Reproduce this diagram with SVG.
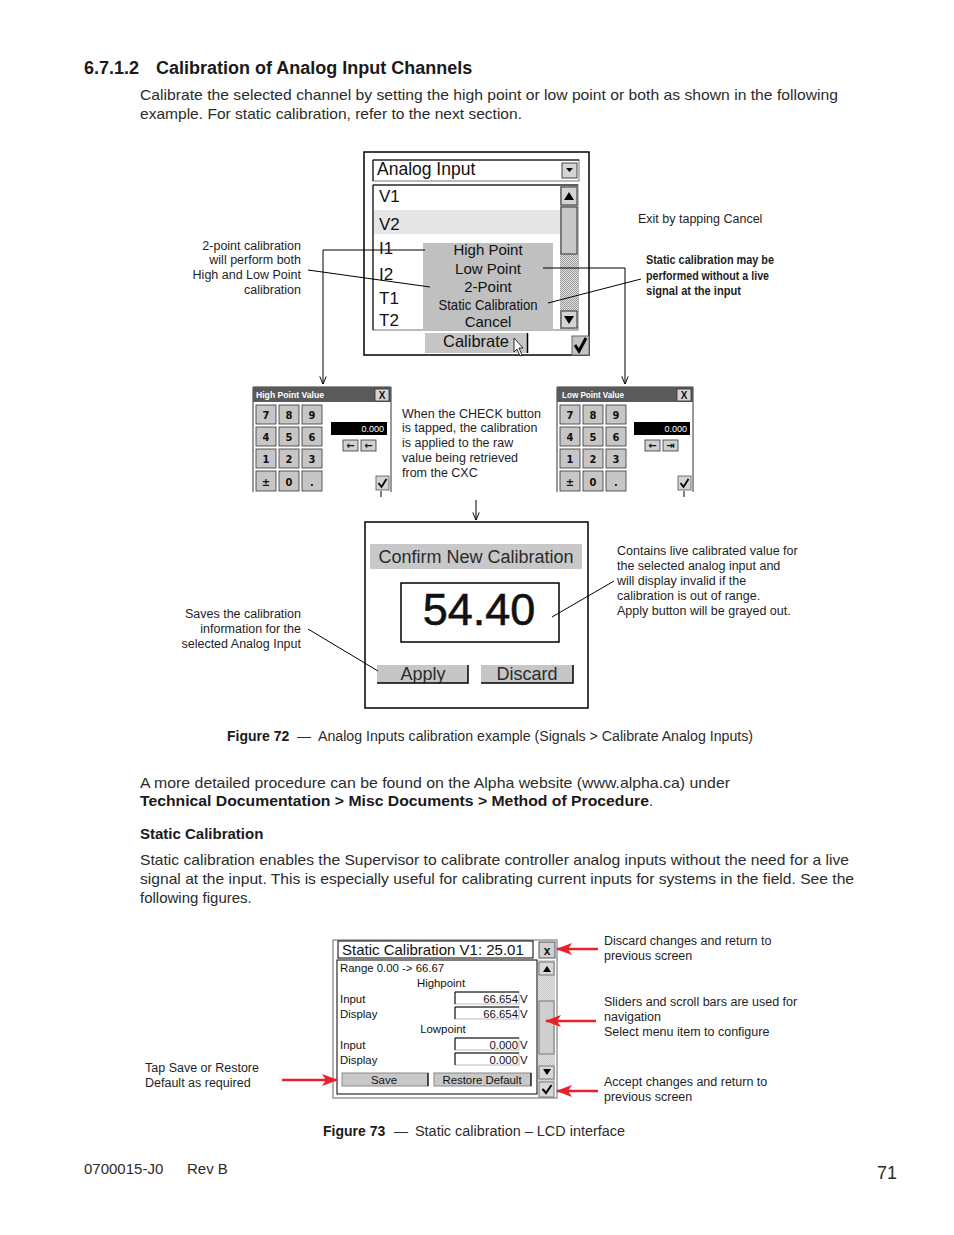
<svg xmlns="http://www.w3.org/2000/svg" xmlns:xlink="http://www.w3.org/1999/xlink" width="954" height="1235" viewBox="0 0 954 1235">
<style>
text{font-family:"Liberation Sans",Arial,sans-serif;fill:#2b2b2b}
.h{font-weight:bold;fill:#1a1a1a}
.body{font-size:15px}
.cap{font-size:14px}
.ann{font-size:12.5px;fill:#1e1e1e}
.ui{fill:#111}
.menu{font-size:15px;text-anchor:middle;fill:#111}
.key{font-family:"DejaVu Sans Condensed","DejaVu Sans",sans-serif;font-weight:bold;font-size:11px;text-anchor:middle;fill:#111}
.btn{fill:#c6c6c6}
.edge{stroke:#000;stroke-width:1.5;fill:none}
.ln{stroke:#000;stroke-width:1;fill:none}
.lcd{font-size:11.4px;fill:#111}
.red{stroke:#e8202a;stroke-width:2.5;fill:none}
.arr{font-family:"DejaVu Sans",sans-serif;font-size:10px;font-weight:bold;text-anchor:middle;fill:#111}
</style>
<defs>
<marker id="v" viewBox="0 0 10 10" refX="9.5" refY="5" markerWidth="8" markerHeight="8" markerUnits="userSpaceOnUse" orient="auto">
<path d="M0,1 L10,5 L0,9" fill="none" stroke="#000" stroke-width="1.2"/>
</marker>
<marker id="ra" viewBox="0 0 16 12" refX="15" refY="6" markerWidth="16" markerHeight="12" markerUnits="userSpaceOnUse" orient="auto">
<path d="M0,0 L16,6 L0,12 L4,6 Z" fill="#e8202a"/>
</marker>
<pattern id="dither" width="2" height="2" patternUnits="userSpaceOnUse">
<rect width="2" height="2" fill="#e2e2e2"/><rect width="1" height="1" fill="#9a9a9a"/><rect x="1" y="1" width="1" height="1" fill="#9a9a9a"/>
</pattern>
<pattern id="dither2" width="2" height="2" patternUnits="userSpaceOnUse">
<rect width="2" height="2" fill="#e6e6e6"/><rect width="1" height="1" fill="#c4c4c4"/><rect x="1" y="1" width="1" height="1" fill="#c4c4c4"/>
</pattern>
<g id="keys">
<rect x="256" y="405" width="20" height="19" class="btn" stroke="#333" stroke-width="0.8"/>
<rect x="279" y="405" width="20" height="19" class="btn" stroke="#333" stroke-width="0.8"/>
<rect x="302" y="405" width="20" height="19" class="btn" stroke="#333" stroke-width="0.8"/>
<rect x="256" y="427" width="20" height="19" class="btn" stroke="#333" stroke-width="0.8"/>
<rect x="279" y="427" width="20" height="19" class="btn" stroke="#333" stroke-width="0.8"/>
<rect x="302" y="427" width="20" height="19" class="btn" stroke="#333" stroke-width="0.8"/>
<rect x="256" y="449" width="20" height="19" class="btn" stroke="#333" stroke-width="0.8"/>
<rect x="279" y="449" width="20" height="19" class="btn" stroke="#333" stroke-width="0.8"/>
<rect x="302" y="449" width="20" height="19" class="btn" stroke="#333" stroke-width="0.8"/>
<rect x="256" y="471" width="20" height="20" class="btn" stroke="#333" stroke-width="0.8"/>
<rect x="279" y="471" width="20" height="20" class="btn" stroke="#333" stroke-width="0.8"/>
<rect x="302" y="471" width="20" height="20" class="btn" stroke="#333" stroke-width="0.8"/>
<text class="key" x="266" y="419">7</text><text class="key" x="289" y="419">8</text><text class="key" x="312" y="419">9</text>
<text class="key" x="266" y="441">4</text><text class="key" x="289" y="441">5</text><text class="key" x="312" y="441">6</text>
<text class="key" x="266" y="463">1</text><text class="key" x="289" y="463">2</text><text class="key" x="312" y="463">3</text>
<text class="key" x="266" y="486">±</text><text class="key" x="289" y="486">0</text><text class="key" x="312" y="486">.</text>
</g>
</defs>
<rect width="954" height="1235" fill="#fff"/>

<g id="page-text">
<text class="h" x="84" y="74" font-size="18">6.7.1.2</text>
<text class="h" x="156" y="74" font-size="18">Calibration of Analog Input Channels</text>
<text class="body" x="140" y="100" textLength="698" lengthAdjust="spacingAndGlyphs">Calibrate the selected channel by setting the high point or low point or both as shown in the following</text>
<text class="body" x="140" y="119" textLength="382" lengthAdjust="spacingAndGlyphs">example. For static calibration, refer to the next section.</text>
<text class="cap" x="227" y="741"><tspan class="h">Figure 72</tspan><tspan x="297">—</tspan><tspan x="318" textLength="435" lengthAdjust="spacingAndGlyphs">Analog Inputs calibration example (Signals &gt; Calibrate Analog Inputs)</tspan></text>
<text class="body" x="140" y="788" textLength="590" lengthAdjust="spacingAndGlyphs">A more detailed procedure can be found on the Alpha website (www.alpha.ca) under</text>
<text class="body" x="140" y="806"><tspan class="h" textLength="509" lengthAdjust="spacingAndGlyphs">Technical Documentation &gt; Misc Documents &gt; Method of Procedure</tspan>.</text>
<text class="body h" x="140" y="839">Static Calibration</text>
<text class="body" x="140" y="865" textLength="709" lengthAdjust="spacingAndGlyphs">Static calibration enables the Supervisor to calibrate controller analog inputs without the need for a live</text>
<text class="body" x="140" y="884" textLength="714" lengthAdjust="spacingAndGlyphs">signal at the input. This is especially useful for calibrating current inputs for systems in the field. See the</text>
<text class="body" x="140" y="903">following figures.</text>
<text class="cap" x="323" y="1136"><tspan class="h">Figure 73</tspan><tspan x="394">—</tspan><tspan x="415" textLength="210" lengthAdjust="spacingAndGlyphs">Static calibration  – LCD interface</tspan></text>
<text class="body" x="84" y="1174">0700015-J0</text>
<text class="body" x="187" y="1174">Rev B</text>
<text x="877" y="1179" font-size="18">71</text>
</g>

<g id="fig72-annotations">
<text class="ann" text-anchor="end" x="301" y="250">2-point calibration</text>
<text class="ann" text-anchor="end" x="301" y="264">will perform both</text>
<text class="ann" text-anchor="end" x="301" y="279">High and Low Point</text>
<text class="ann" text-anchor="end" x="301" y="294">calibration</text>
<text class="ann" x="638" y="223">Exit by tapping Cancel</text>
<text class="ann" x="646" y="264" font-weight="bold" font-size="11.5" textLength="128" lengthAdjust="spacingAndGlyphs">Static calibration may be</text>
<text class="ann" x="646" y="280" font-weight="bold" font-size="11.5" textLength="123" lengthAdjust="spacingAndGlyphs">performed without a live</text>
<text class="ann" x="646" y="295" font-weight="bold" font-size="11.5" textLength="95" lengthAdjust="spacingAndGlyphs">signal at the input</text>
<text class="ann" font-size="12" x="402" y="418">When the CHECK button</text>
<text class="ann" font-size="12" x="402" y="432">is tapped, the calibration</text>
<text class="ann" font-size="12" x="402" y="447">is applied to the raw</text>
<text class="ann" font-size="12" x="402" y="462">value being retrieved</text>
<text class="ann" font-size="12" x="402" y="477">from the CXC</text>
<text class="ann" text-anchor="end" x="301" y="618">Saves the calibration</text>
<text class="ann" text-anchor="end" x="301" y="633">information for the</text>
<text class="ann" text-anchor="end" x="301" y="648">selected Analog Input</text>
<text class="ann" x="617" y="555">Contains live calibrated value for</text>
<text class="ann" x="617" y="570">the selected analog input and</text>
<text class="ann" x="617" y="585">will display invalid if the</text>
<text class="ann" x="617" y="600">calibration is out of range.</text>
<text class="ann" x="617" y="615">Apply button will be grayed out.</text>
</g>

<g id="analog-input-dialog">
<rect x="364" y="152" width="225" height="203" fill="#fff" stroke="#000" stroke-width="1.5"/>
<rect x="373" y="160" width="206" height="21" fill="#fff" stroke="#777"/>
<path d="M373,181 V160 H579" class="ln" stroke="#333"/>
<text class="ui" x="377" y="175" font-size="17.5">Analog Input</text>
<rect x="562" y="163" width="15" height="15" fill="#d4d4d4" stroke="#444"/>
<polygon points="566,168 573,168 569.5,172" fill="#000"/>
<rect x="373" y="185" width="205" height="145" fill="#fff" stroke="#777"/>
<path d="M373,330 V185 H578" class="ln" stroke="#333"/>
<rect x="374" y="210" width="186" height="24" fill="#e6e6e6"/>
<text class="ui" x="379" y="202" font-size="17">V1</text>
<text class="ui" x="379" y="230" font-size="17">V2</text>
<text class="ui" x="379" y="254" font-size="17">I1</text>
<text class="ui" x="379" y="280" font-size="17">I2</text>
<text class="ui" x="379" y="304" font-size="17">T1</text>
<text class="ui" x="379" y="326" font-size="17">T2</text>
<rect x="560" y="186" width="18" height="143" fill="url(#dither)"/>
<rect x="561" y="187" width="16" height="18" fill="#d4d4d4" stroke="#333"/>
<polygon points="564,200 574,200 569,192" fill="#000"/>
<rect x="561" y="207" width="16" height="47" fill="#c8c8c8" stroke="#333"/>
<rect x="561" y="311" width="16" height="17" fill="#d4d4d4" stroke="#333"/>
<polygon points="564,316 574,316 569,324" fill="#000"/>
<rect x="423" y="243" width="130" height="87" fill="#c0c0c0"/>
<text class="menu" x="488" y="255">High Point</text>
<text class="menu" x="488" y="274">Low Point</text>
<text class="menu" x="488" y="292">2-Point</text>
<text class="menu" x="488" y="310" textLength="99" lengthAdjust="spacingAndGlyphs">Static Calibration</text>
<text class="menu" x="488" y="327">Cancel</text>
<rect x="425" y="333" width="103" height="20" class="btn"/>
<line x1="527.5" y1="333" x2="527.5" y2="353" stroke="#000" stroke-width="1.5"/>
<text class="ui" x="476" y="347" font-size="16.5" text-anchor="middle">Calibrate</text>
<polygon points="514,338 514,352 517,349 520,356 522,355 519,348 523,348" fill="#fff" stroke="#000" stroke-width="0.8"/>
<rect x="572" y="336" width="17" height="19" fill="#c4c4c4" stroke="#666"/>
<path d="M575,345 L579,351 L586,338" fill="none" stroke="#000" stroke-width="3"/>
</g>

<g id="high-point-keypad">
<path d="M253,492 V387 H391 V492" fill="#fff" stroke="#333" stroke-width="1"/>
<rect x="253" y="387" width="138" height="15" fill="#5a5a5a"/>
<text x="256" y="398" font-size="9" font-weight="bold" style="fill:#fff" textLength="68" lengthAdjust="spacingAndGlyphs">High Point Value</text>
<rect x="375" y="389" width="14" height="12" fill="#d4d4d4" stroke="#333" stroke-width="0.8"/>
<text x="382" y="399" font-size="10" font-weight="bold" text-anchor="middle" class="ui">X</text>
<use xlink:href="#keys" href="#keys"/>
<rect x="331" y="422" width="56" height="13" fill="#000"/>
<text x="384" y="432" font-size="9" text-anchor="end" style="fill:#fff">0.000</text>
<rect x="343" y="440" width="15" height="11" fill="#d0d0d0" stroke="#333" stroke-width="0.8"/>
<rect x="361" y="440" width="15" height="11" fill="#d0d0d0" stroke="#333" stroke-width="0.8"/>
<text class="arr" x="350.5" y="449">←</text>
<text class="arr" x="368.5" y="449">←</text>
<rect x="376" y="476" width="13" height="14" fill="#d4d4d4" stroke="#555" stroke-width="0.8"/>
<path d="M378.5,483 L381.5,487 L386.5,479" fill="none" stroke="#000" stroke-width="1.8"/>
</g>

<g id="low-point-keypad">
<path d="M557,492 V387 H693 V492" fill="#fff" stroke="#333" stroke-width="1"/>
<rect x="557" y="387" width="136" height="15" fill="#5a5a5a"/>
<text x="562" y="398" font-size="9" font-weight="bold" style="fill:#fff" textLength="62" lengthAdjust="spacingAndGlyphs">Low Point Value</text>
<rect x="677" y="389" width="14" height="12" fill="#d4d4d4" stroke="#333" stroke-width="0.8"/>
<text x="684" y="399" font-size="10" font-weight="bold" text-anchor="middle" class="ui">X</text>
<use xlink:href="#keys" href="#keys" x="304"/>
<rect x="634" y="422" width="56" height="13" fill="#000"/>
<text x="687" y="432" font-size="9" text-anchor="end" style="fill:#fff">0.000</text>
<rect x="645" y="440" width="15" height="11" fill="#d0d0d0" stroke="#333" stroke-width="0.8"/>
<rect x="663" y="440" width="15" height="11" fill="#d0d0d0" stroke="#333" stroke-width="0.8"/>
<text class="arr" x="652.5" y="449">←</text>
<text class="arr" x="670.5" y="449">⇥</text>
<rect x="678" y="476" width="13" height="14" fill="#d4d4d4" stroke="#555" stroke-width="0.8"/>
<path d="M680.5,483 L683.5,487 L688.5,479" fill="none" stroke="#000" stroke-width="1.8"/>
</g>

<g id="confirm-dialog">
<rect x="365" y="522" width="223" height="186" fill="#fff" stroke="#000" stroke-width="1.5"/>
<rect x="370" y="544" width="212" height="25" fill="#c8c8c8"/>
<text x="476" y="563" font-size="18" text-anchor="middle" fill="#333">Confirm New Calibration</text>
<rect x="401" y="583" width="158" height="59" fill="#fff" stroke="#000" stroke-width="1.5"/>
<text x="479" y="625" font-size="45" text-anchor="middle" class="ui" stroke="#111" stroke-width="0.6">54.40</text>
<rect x="377" y="665" width="91" height="18" class="btn"/>
<path d="M377,683 H468 V665" class="edge"/>
<text x="423" y="680" font-size="18" text-anchor="middle" fill="#333">Apply</text>
<rect x="481" y="665" width="92" height="18" class="btn"/>
<path d="M481,683 H573 V665" class="edge"/>
<text x="527" y="680" font-size="18" text-anchor="middle" fill="#333">Discard</text>
</g>

<g id="static-calibration-lcd">
<rect x="333" y="940" width="224" height="158" fill="#fff" stroke="#9a9a9a" stroke-width="1.5"/>
<rect x="338" y="941" width="195" height="17" fill="#fff" stroke="#000"/>
<text x="342" y="955" font-size="15" class="ui">Static Calibration V1: 25.01</text>
<rect x="539" y="942" width="16" height="16" fill="#d0d0d0" stroke="#555"/>
<text x="547" y="955" font-size="12" font-weight="bold" text-anchor="middle" class="ui">x</text>
<rect x="337" y="960" width="200" height="134" fill="#fff" stroke="#000"/>
<rect x="538" y="960" width="17" height="122" fill="url(#dither2)"/>
<rect x="539" y="962" width="15" height="13" fill="#d8d8d8" stroke="#777"/>
<polygon points="543,972 551,972 547,966" fill="#000"/>
<rect x="539" y="1001" width="15" height="53" fill="#cfcfcf" stroke="#777"/>
<rect x="539" y="1066" width="15" height="13" fill="#d8d8d8" stroke="#777"/>
<polygon points="543,1069 551,1069 547,1075" fill="#000"/>
<rect x="539" y="1082" width="15" height="15" fill="#d8d8d8" stroke="#777"/>
<path d="M542.5,1089 L546,1093 L551.5,1085" fill="none" stroke="#000" stroke-width="2"/>
<text class="lcd" x="340" y="972">Range 0.00 -&gt; 66.67</text>
<text class="lcd" x="441" y="987" text-anchor="middle">Highpoint</text>
<text class="lcd" x="340" y="1003">Input</text>
<text class="lcd" x="340" y="1018">Display</text>
<text class="lcd" x="443" y="1033" text-anchor="middle">Lowpoint</text>
<text class="lcd" x="340" y="1049">Input</text>
<text class="lcd" x="340" y="1064">Display</text>
<rect x="455" y="992" width="64" height="12" fill="#fff" stroke="#bbb"/>
<path d="M455,1004 V992 H519" class="ln" stroke="#444"/>
<rect x="455" y="1007" width="64" height="12" fill="#fff" stroke="#bbb"/>
<path d="M455,1019 V1007 H519" class="ln" stroke="#444"/>
<rect x="455" y="1038" width="64" height="12" fill="#fff" stroke="#bbb"/>
<path d="M455,1050 V1038 H519" class="ln" stroke="#444"/>
<rect x="455" y="1053" width="64" height="12" fill="#fff" stroke="#bbb"/>
<path d="M455,1065 V1053 H519" class="ln" stroke="#444"/>
<text class="lcd" x="518" y="1003" text-anchor="end">66.654</text><text class="lcd" x="520" y="1003">V</text>
<text class="lcd" x="518" y="1018" text-anchor="end">66.654</text><text class="lcd" x="520" y="1018">V</text>
<text class="lcd" x="518" y="1049" text-anchor="end">0.000</text><text class="lcd" x="520" y="1049">V</text>
<text class="lcd" x="518" y="1064" text-anchor="end">0.000</text><text class="lcd" x="520" y="1064">V</text>
<rect x="342" y="1073" width="86" height="13" fill="#c8c8c8" stroke="#888"/>
<line x1="428" y1="1073" x2="428" y2="1086" stroke="#000" stroke-width="1.2"/>
<text class="lcd" x="384" y="1084" text-anchor="middle">Save</text>
<rect x="434" y="1073" width="97" height="13" fill="#c8c8c8" stroke="#888"/>
<line x1="531" y1="1073" x2="531" y2="1086" stroke="#000" stroke-width="1.2"/>
<text class="lcd" x="482" y="1084" text-anchor="middle">Restore Default</text>
</g>

<g id="fig73-annotations">
<text class="ann" x="604" y="945">Discard changes and return to</text>
<text class="ann" x="604" y="960">previous screen</text>
<text class="ann" x="604" y="1006">Sliders and scroll bars are used for</text>
<text class="ann" x="604" y="1021">navigation</text>
<text class="ann" x="604" y="1036">Select menu item to configure</text>
<text class="ann" x="604" y="1086">Accept changes and return to</text>
<text class="ann" x="604" y="1101">previous screen</text>
<text class="ann" x="145" y="1072">Tap Save or Restore</text>
<text class="ann" x="145" y="1087">Default as required</text>
</g>

<g id="connectors">
<path d="M425,250 H323 V384" class="ln" marker-end="url(#v)"/>
<line x1="308" y1="270" x2="430" y2="287" class="ln"/>
<path d="M543,268 H625 V384" class="ln" marker-end="url(#v)"/>
<line x1="548" y1="303" x2="641" y2="279" class="ln" stroke-width="1.2"/>
<line x1="476" y1="500" x2="476" y2="520" class="ln" marker-end="url(#v)"/>
<line x1="381" y1="491" x2="381" y2="497" class="ln"/>
<line x1="684" y1="491" x2="684" y2="497" class="ln"/>
<line x1="308" y1="629" x2="378" y2="671" class="ln"/>
<line x1="552" y1="617" x2="614" y2="581" class="ln"/>
<line x1="598" y1="949" x2="557" y2="949" class="red" marker-end="url(#ra)"/>
<line x1="596" y1="1021" x2="546" y2="1021" class="red" marker-end="url(#ra)"/>
<line x1="598" y1="1091" x2="557" y2="1091" class="red" marker-end="url(#ra)"/>
<line x1="282" y1="1080" x2="337" y2="1080" class="red" marker-end="url(#ra)"/>
</g>
</svg>
